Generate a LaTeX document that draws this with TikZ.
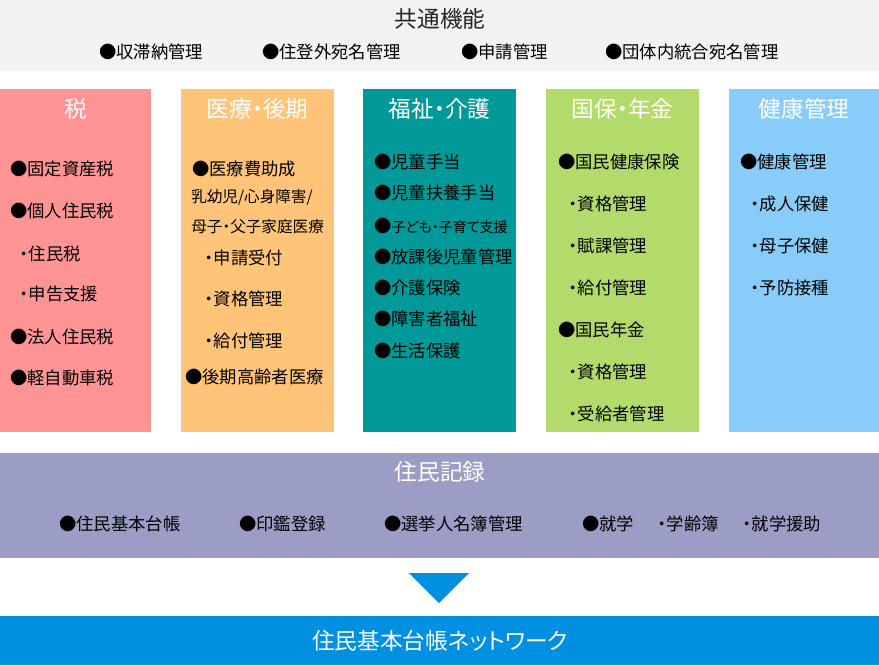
\documentclass[tikz,border=0pt]{standalone}
\usepackage{fontspec}
\setmainfont{Noto Sans CJK JP}[RawFeature={+palt}]
\definecolor{topgray}{HTML}{F2F2F2}
\definecolor{zei}{HTML}{FF9494}
\definecolor{iryo}{HTML}{FFC477}
\definecolor{fukushi}{HTML}{009999}
\definecolor{kokuho}{HTML}{B3DB6B}
\definecolor{kenko}{HTML}{88CDFA}
\definecolor{juumin}{HTML}{9B9DC5}
\definecolor{net}{HTML}{0090E2}

\begin{document}
\begin{tikzpicture}[x=0.75pt,y=-0.75pt,
  head/.style={inner sep=0pt, font=\fontsize{17}{20}\selectfont, text=white},
  item/.style={anchor=west, inner sep=0pt, text height=0.84em, text depth=0.08em,
    yshift=-1.5pt, font=\fontsize{13}{15}\selectfont, text=black},
  smallitem/.style={item, font=\fontsize{11.7}{14}\selectfont}]
\useasboundingbox (0,0) rectangle (879,665);
% bands
\fill[topgray] (0,0) rectangle (879,71);
\fill[zei] (0,89) rectangle (151,432);
\fill[iryo] (181,89) rectangle (334,432);
\fill[fukushi] (363,89) rectangle (516,432);
\fill[kokuho] (546,89) rectangle (699,432);
\fill[kenko] (729,89) rectangle (879,432);
\fill[juumin] (0,453) rectangle (879,558);
\fill[net] (0,616) rectangle (879,665);
\fill[net] (409,573) -- (469,573) -- (439,603) -- cycle;

% common functions
\node[head, text=black!85] (kyotsu) at (440,19) {共通機能};
\node[item] (kyotsu1) at (99,51) {●収滞納管理};
\node[item] (kyotsu2) at (262,51) {●住登外宛名管理};
\node[item] (kyotsu3) at (461,51) {●申請管理};
\node[item] (kyotsu4) at (605,51) {●団体内統合宛名管理};

% tax
\node[head] (zei) at (75.5,109) {税};
\node[item] (zei1) at (10,168) {●固定資産税};
\node[item] (zei2) at (10,210) {●個人住民税};
\node[item] (zei3) at (20,253) {・住民税};
\node[item] (zei4) at (20,293) {・申告支援};
\node[item] (zei5) at (10,336) {●法人住民税};
\node[item] (zei6) at (10,377) {●軽自動車税};

% medical
\node[head] (iryo) at (257.5,109) {医療・後期};
\node[item] (iryo1) at (192,168) {●医療費助成};
\node[smallitem] (iryo2) at (191,195) {乳幼児/心身障害/};
\node[smallitem] (iryo3) at (191,225) {母子・父子家庭医療};
\node[item] (iryo4) at (205,257) {・申請受付};
\node[item] (iryo5) at (205,298) {・資格管理};
\node[item] (iryo6) at (205,340) {・給付管理};
\node[item] (iryo7) at (185,376) {●後期高齢者医療};

% welfare
\node[head] (fukushi) at (439.5,109) {福祉・介護};
\node[item] (fukushi1) at (374,161) {●児童手当};
\node[item] (fukushi2) at (374,192) {●児童扶養手当};
\node[item] (fukushi3) at (374,225) {●{\fontsize{10.5}{13}\selectfont 子ども・子育て支援}};
\node[item] (fukushi4) at (374,256) {●放課後児童管理};
\node[item] (fukushi5) at (374,287) {●介護保険};
\node[item] (fukushi6) at (374,318) {●障害者福祉};
\node[item] (fukushi7) at (374,350) {●生活保護};

% national insurance and pension
\node[head] (kokuho) at (622.5,109) {国保・年金};
\node[item] (kokuho1) at (558,161) {●国民健康保険};
\node[item] (kokuho2) at (569,203) {・資格管理};
\node[item] (kokuho3) at (569,245) {・賦課管理};
\node[item] (kokuho4) at (569,287) {・給付管理};
\node[item] (kokuho5) at (558,329) {●国民年金};
\node[item] (kokuho6) at (569,371) {・資格管理};
\node[item] (kokuho7) at (569,413) {・受給者管理};

% health
\node[head] (kenko) at (804,109) {健康管理};
\node[item] (kenko1) at (740,161) {●健康管理};
\node[item] (kenko2) at (751,203) {・成人保健};
\node[item] (kenko3) at (751,245) {・母子保健};
\node[item] (kenko4) at (751,287) {・予防接種};

% resident records
\node[head] (juumin) at (440,472) {住民記録};
\node[item] (juumin1) at (59,523) {●住民基本台帳};
\node[item] (juumin2) at (239,523) {●印鑑登録};
\node[item] (juumin3) at (384,523) {●選挙人名簿管理};
\node[item] (juumin4) at (582,523) {●就学};
\node[item] (juumin5) at (658,523) {・学齢簿};
\node[item] (juumin6) at (743,523) {・就学援助};

\node[head] (net) at (440,641) {住民基本台帳ネットワーク};
\end{tikzpicture}
\end{document}
